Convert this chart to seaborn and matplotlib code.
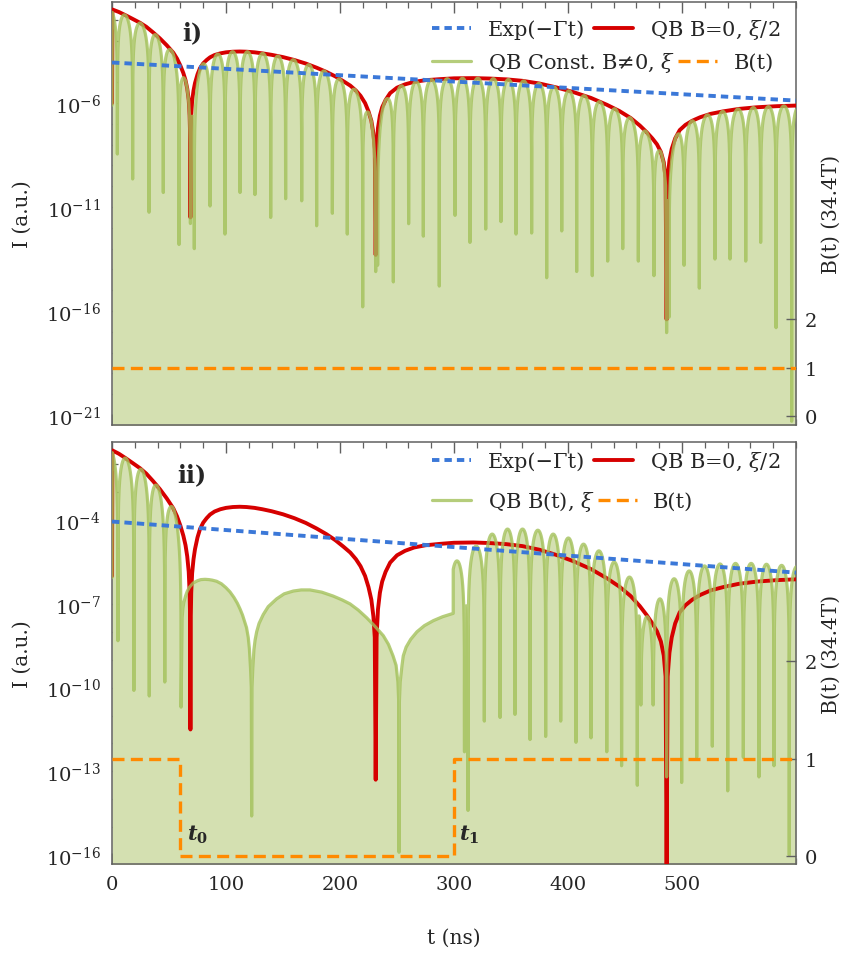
import numpy as np
import pandas as pd
import matplotlib
matplotlib.use("Agg")
import matplotlib.pyplot as plt
from matplotlib.lines import Line2D
from matplotlib.ticker import FixedLocator, FuncFormatter, NullFormatter, MultipleLocator
import seaborn as sns

sns.set_theme(style="ticks")
plt.rcParams["font.family"] = ["DejaVu Serif"]
plt.rcParams["mathtext.fontset"] = "dejavuserif"

# ---------------- data ----------------
# red: QB B=0, xi/2  (time in ns, log10 intensity)
red_t = [0, 0.3, 6, 12, 18, 24.6, 30, 36, 42, 48, 53.8, 57, 60, 62.6, 64.5, 66, 67.3, 68.1,
         68.5, 68.8, 69.1, 69.5, 70.3, 71.5, 72.8, 75, 77.2, 80, 83, 86, 90, 95, 100, 106,
         112, 118, 125, 132, 140, 150, 160, 170, 179.5, 188, 196, 203, 209, 214, 218, 222,
         225, 227.5, 229.3, 230.5, 231.3, 232.1, 233.3, 235, 237, 240, 244, 250, 257, 265,
         275, 287.7, 300, 317, 331, 346, 360, 375, 390, 404, 420, 434, 445, 455, 463, 469,
         474, 478, 481.5, 484, 485.6, 486.5, 487.4, 489, 491, 494, 498, 503, 509, 516, 525,
         536, 550, 566, 583, 600]
red_log = [-6.0, -1.5, -1.62, -1.78, -1.95, -2.14, -2.33, -2.6, -2.89, -3.22, -3.58, -3.86,
           -4.2, -4.56, -4.9, -5.3, -5.85, -6.6, -7.5, -11.5, -7.5, -6.6, -5.9, -5.4, -5.04,
           -4.62, -4.32, -4.09, -3.93, -3.8, -3.69, -3.61, -3.56, -3.53, -3.52, -3.53, -3.56,
           -3.61, -3.68, -3.79, -3.93, -4.1, -4.3, -4.5, -4.72, -4.95, -5.16, -5.4, -5.65,
           -6.0, -6.4, -6.85, -7.45, -8.2, -13.3, -8.2, -7.2, -6.6, -6.2, -5.85, -5.52, -5.26,
           -5.1, -4.98, -4.9, -4.85, -4.81, -4.80, -4.82, -4.86, -4.93, -5.06, -5.25, -5.46,
           -5.75, -6.08, -6.38, -6.72, -7.08, -7.4, -7.7, -7.98, -8.35, -8.85, -9.6, -16.4,
           -9.6, -8.75, -8.2, -7.7, -7.3, -7.05, -6.85, -6.68, -6.52, -6.4, -6.28, -6.2,
           -6.15, -6.12]

# blue: Exp(-Gamma t)
exp_t = [0, 600]
exp_log = [-4.05, -5.88]

# orange: B(t) in units of 34.4 T
b1_t = [0, 600]
b1_val = [1, 1]
b2_t = [0, 60, 60, 300, 300, 600]
b2_val = [1, 1, 0, 0, 1, 1]

# green, panel i: beat minima (ns) and their depths (log10)
qb1_dips = [-8.8, 4.7, 18.1, 32.5, 45.0, 58.8, 72.2, 86.0, 99.1, 112.3, 125.4, 139.2, 152.3,
            166.4, 179.5, 193.3, 206.4, 219.9, 233.0, 246.8, 260.2, 273.1, 287.1, 300.9,
            314.0, 327.8, 341.2, 354.4, 368.1, 381.3, 394.5, 407.6, 421.3, 434.8, 448.0,
            461.7, 475.4, 488.6, 501.8, 515.2, 528.9, 542.1, 555.9, 569.0, 582.5, 596.2, 609.6]
qb1_depth = [-8.0, -8.45, -9.65, -11.25, -10.3, -12.8, -13.0, -10.95, -12.3, -10.3, -10.4,
             -11.5, -10.6, -10.7, -11.9, -11.3, -12.3, -15.8, -13.8, -14.6, -11.8, -12.4,
             -14.8, -11.4, -12.7, -12.06, -11.7, -12.3, -12.25, -14.4, -12.15, -14.1, -14.3,
             -13.6, -13.0, -13.6, -14.3, -16.3, -13.8, -14.9, -13.5, -13.5, -13.6, -12.7,
             -16.8, -21.3, -12.0]

# green, panel ii, before t0: beat minima and depths
qb2a_dips = [-8.3, 5.2, 19.2, 32.7, 46.3, 60.6]
qb2a_depth = [-8.0, -8.32, -10.1, -10.3, -9.8, -10.7]

# green, panel ii, between t0 and t1 (no beats)
qb2b_t = [60.6, 61.5, 62.2, 63, 64.5, 66, 68, 71.3, 75, 78, 81.6, 85, 88, 91.8, 96, 100,
          103.5, 107, 110, 112.3, 114.5, 116.5, 118, 119.5, 120.5, 121.5, 122.2, 122.5,
          122.8, 123.5, 124.5, 125.5, 126.9, 129, 132.7, 137, 144.4, 151, 159, 166, 173.7,
          184, 194, 202, 208.8, 216, 223.5, 231, 238, 242.5, 246.5, 249.2, 250.8, 251.5,
          251.8, 252.1, 252.8, 254.4, 255.5, 258, 262, 267.5, 274, 281.9, 290, 299.3]
qb2b_log = [-10.7, -7.5, -7.15, -6.95, -6.72, -6.55, -6.4, -6.25, -6.17, -6.13, -6.12, -6.13,
            -6.15, -6.19, -6.28, -6.42, -6.57, -6.77, -6.98, -7.18, -7.4, -7.65, -7.85, -8.2,
            -8.6, -9.3, -10.0, -14.6, -10.0, -9.3, -8.64, -8.3, -8.0, -7.7, -7.38, -7.1,
            -6.82, -6.64, -6.54, -6.5, -6.5, -6.58, -6.72, -6.86, -7.0, -7.22, -7.5, -7.82,
            -8.14, -8.45, -8.86, -9.2, -9.8, -10.5, -15.9, -10.5, -9.8, -9.2, -8.86, -8.55,
            -8.27, -8.0, -7.78, -7.6, -7.46, -7.34]

# green, panel ii, after t1: beat minima, depths and beat maxima
qb2c_dips = [296.0, 309.2, 312.3, 326.6, 340.4, 353.5, 366.7, 380.4, 393.6, 407.0, 420.2,
             434.0, 447.0, 460.8, 463.8, 474.8, 486.5, 499.7, 512.9, 526.6, 540.1, 553.8,
             567.5, 580.7, 594.1, 607.5]
qb2c_depth = [-9.0, -12.3, -14.4, -11.2, -11.07, -10.96, -11.86, -11.75, -11.2, -11.96, -11.8,
              -12.3, -12.8, -13.5, -10.5, -9.0, -13.2, -13.4, -12.5, -12.1, -13.7, -12.5,
              -13.2, -12.8, -16.0, -12.0]
qb2c_peak = [-5.46, -7.07, -4.93, -4.5, -4.32, -4.32, -4.36, -4.5, -4.64, -4.86, -5.1, -5.5,
             -6.04, -7.43, -7.46, -6.82, -6.1, -5.82, -5.64, -5.57, -5.55, -5.55, -5.58,
             -5.62, -5.66]

# ---------------- helpers ----------------
def beat_curve(dips, depth, env, t_lo, t_hi, extra=()):
    ts, ls = [], []
    for k in range(len(dips) - 1):
        a, b = dips[k], dips[k + 1]
        tt = np.linspace(a, b, 121)
        ex = [x for x in list(extra) + [t_lo, t_hi] if a < x < b]
        tt = np.unique(np.concatenate([tt, ex]))
        s = (tt - a) / (b - a)
        f = np.log10(np.clip(np.sin(np.pi * s) ** 2, 1e-300, None))
        lg = env(tt, k) + f
        lg[0] = depth[k]
        lg[-1] = depth[k + 1]
        if k > 0:
            tt, lg = tt[1:], lg[1:]
        ts.append(tt)
        ls.append(lg)
    ts = np.concatenate(ts)
    ls = np.concatenate(ls)
    m = (ts >= t_lo) & (ts <= t_hi)
    return ts[m], ls[m]


def red_env(tt, k):
    return np.interp(tt, red_t, red_log)


def peak_env(tt, k):
    return np.full_like(tt, qb2c_peak[k])


g1_t, g1_l = beat_curve(qb1_dips, qb1_depth, red_env, 0, 600, red_t)
ga_t, ga_l = beat_curve(qb2a_dips, qb2a_depth, red_env, 0, qb2a_dips[-1], red_t)
gc_t, gc_l = beat_curve(qb2c_dips, qb2c_depth, peak_env, qb2b_t[-1], 600)
g2_t = np.concatenate([ga_t, np.array(qb2b_t[1:]), gc_t])
g2_l = np.concatenate([ga_l, np.array(qb2b_log[1:]), gc_l])

# ---------------- styles ----------------
C_BLUE = "#3b78d8"
C_RED = "#d60000"
C_GREEN = "#a3c15a"
C_FILL = "#d4e0b1"
C_ORANGE = "#ff8a00"
C_SPINE = "#606060"
BLUE_LS = (0, (1.9, 1.3))
OR_LS = (0, (3.6, 1.9))

W, H = 859, 954
fig = plt.figure(figsize=(W / 100, H / 100), dpi=100)
axL = 112 / W
axW = (796 - 112) / W
ax1 = fig.add_axes([axL, 1 - 426 / H, axW, (426 - 3) / H])
ax2 = fig.add_axes([axL, 1 - 865 / H, axW, (865 - 443) / H])

panels = [
    dict(ax=ax1, g_t=g1_t, g_l=g1_l, b_t=b1_t, b_v=b1_val, ylog=(-21.48, -1.14),
         ymaj=[-6, -11, -16, -21], bl=(-0.186, 8.54), lab="i)", ly=0.929,
         glab="QB Const. B\u22600, $\\xi$", r1=0.936, r2=0.858),
    dict(ax=ax2, g_t=g2_t, g_l=g2_l, b_t=b2_t, b_v=b2_val, ylog=(-16.32, -1.20),
         ymaj=[-4, -7, -10, -13, -16], bl=(-0.082, 4.25), lab="ii)", ly=0.924,
         glab="QB B(t), $\\xi$", r1=0.955, r2=0.860),
]

TICK = 14
LAB = 14.5
LEG = 15
for i, p in enumerate(panels):
    ax = p["ax"]
    ax.set_yscale("log")
    gy = 10.0 ** p["g_l"]
    ax.fill_between(p["g_t"], gy, 1e-30, color=C_FILL, lw=0, zorder=1)
    sns.lineplot(x=np.array(red_t, float), y=10.0 ** np.array(red_log), ax=ax, color=C_RED,
                 lw=2.8, estimator=None, sort=False, zorder=3)
    sns.lineplot(x=p["g_t"], y=gy, ax=ax, color=C_GREEN, lw=2.3, alpha=0.8,
                 estimator=None, sort=False, zorder=4)
    sns.lineplot(x=np.array(exp_t, float), y=10.0 ** np.array(exp_log), ax=ax, color=C_BLUE,
                 lw=2.8, linestyle=BLUE_LS, estimator=None, sort=False, zorder=5)
    ax.set_xlim(0, 600)
    ax.set_ylim(10 ** p["ylog"][0], 10 ** p["ylog"][1])
    ax.yaxis.set_major_locator(FixedLocator([10.0 ** v for v in p["ymaj"]]))
    ax.yaxis.set_minor_locator(FixedLocator([10.0 ** v for v in range(-22, 0) if v not in p["ymaj"]]))
    ax.yaxis.set_minor_formatter(NullFormatter())
    ax.yaxis.set_major_formatter(FuncFormatter(lambda v, pos: r"$10^{%d}$" % round(np.log10(v))))
    ax.set_xticks([0, 100, 200, 300, 400, 500])
    ax.xaxis.set_minor_locator(MultipleLocator(20))
    ax.tick_params(which="both", direction="in", top=True, right=False, color=C_SPINE,
                   labelsize=TICK, pad=8)
    ax.tick_params(which="major", length=8, width=1)
    ax.tick_params(which="minor", length=4.5, width=0.9)
    for s in ax.spines.values():
        s.set_color(C_SPINE)
        s.set_linewidth(1.1)
    ax.set_ylabel("I (a.u.)", fontsize=LAB)
    ax.yaxis.set_label_coords(-0.117, 0.5)
    ax.set_xlabel("")
    if i == 0:
        ax.tick_params(labelbottom=False)
    else:
        ax.set_xlabel("t (ns)", fontsize=LAB)
        ax.xaxis.set_label_coords(0.5, -0.152)

    axb = ax.twinx()
    sns.lineplot(x=np.array(p["b_t"], float), y=np.array(p["b_v"], float), ax=axb,
                 color=C_ORANGE, lw=2.4, linestyle=OR_LS, estimator=None, sort=False)
    axb.set_ylim(*p["bl"])
    axb.set_yticks([0, 1, 2])
    axb.tick_params(axis="y", direction="in", length=7, width=1, color=C_SPINE,
                    labelsize=TICK, pad=6)
    for s in axb.spines.values():
        s.set_visible(False)
    axb.set_ylabel("B(t) (34.4T)", fontsize=LAB)
    axb.yaxis.set_label_coords(1.038, 0.5)

    ax.text(0.117, p["ly"], p["lab"], transform=ax.transAxes,
            fontsize=17, fontweight="bold", ha="center", va="center", zorder=10)

    h_blue = Line2D([], [], color=C_BLUE, lw=2.8, linestyle=BLUE_LS)
    h_red = Line2D([], [], color=C_RED, lw=2.8)
    h_green = Line2D([], [], color=C_GREEN, lw=2.3, alpha=0.8)
    h_or = Line2D([], [], color=C_ORANGE, lw=2.4, linestyle=OR_LS)
    common = dict(loc="center left", frameon=False, borderpad=0, borderaxespad=0,
                  handlelength=1.87, handletextpad=0.8, ncol=2, fontsize=LEG)
    leg1 = axb.legend([h_blue, h_red], ["Exp(\u2212\u0393t)", "QB B=0, $\\xi$/2"],
                      bbox_to_anchor=(0.468, p["r1"]), columnspacing=0.45, **common)
    axb.add_artist(leg1)
    axb.legend([h_green, h_or], [p["glab"], "B(t)"], bbox_to_anchor=(0.468, p["r2"]),
               columnspacing=0.15, **common)

ax2.text(75, 10 ** -15.25, "$\\mathbfit{t}_\\mathbf{0}$", fontsize=15, ha="center",
         va="center", zorder=10)
ax2.text(313, 10 ** -15.25, "$\\mathbfit{t}_\\mathbf{1}$", fontsize=15, ha="center",
         va="center", zorder=10)

fig.savefig("out.png", dpi=100)
